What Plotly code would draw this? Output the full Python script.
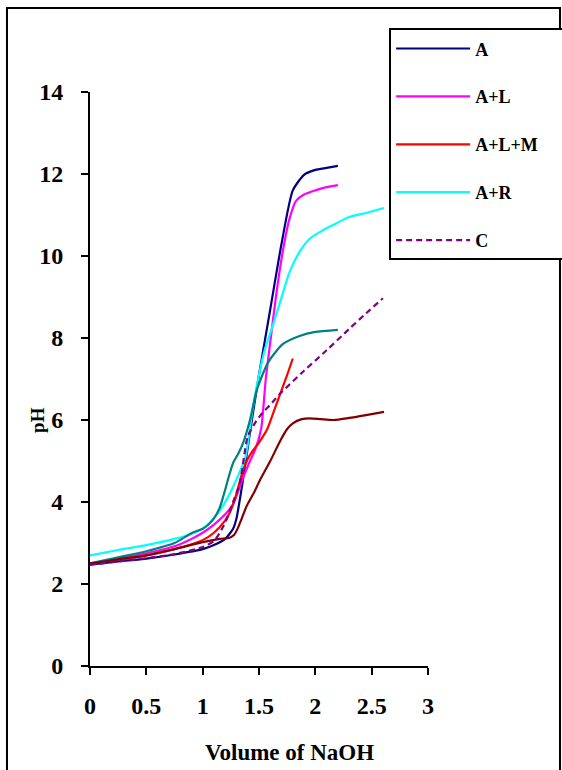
import plotly.graph_objects as go

# ---- data ----
a_x = [0, 0.25, 0.5, 0.75, 1.0, 1.1, 1.2, 1.27, 1.3, 1.35, 1.42, 1.5, 1.6, 1.7, 1.8, 1.9, 2.0, 2.1, 2.2]
a_y = [2.47, 2.55, 2.62, 2.72, 2.85, 2.95, 3.1, 3.35, 3.6, 4.4, 5.7, 7.1, 8.7, 10.3, 11.6, 11.98, 12.1, 12.15, 12.2]

al_x = [0, 0.25, 0.5, 0.75, 0.9, 1.0, 1.1, 1.2, 1.27, 1.36, 1.42, 1.47, 1.52, 1.56, 1.6, 1.65, 1.71, 1.77, 1.83, 1.9, 2.0, 2.1, 2.2]
al_y = [2.5, 2.62, 2.75, 2.92, 3.1, 3.25, 3.45, 3.7, 3.95, 4.6, 5.0, 5.3, 5.8, 7.0, 7.9, 9.0, 10.1, 10.9, 11.35, 11.5, 11.6, 11.68, 11.73]

alm_x = [0, 0.25, 0.5, 0.75, 1.0, 1.1, 1.2, 1.25, 1.3, 1.35, 1.4, 1.45, 1.5, 1.57, 1.63, 1.69, 1.75, 1.8]
alm_y = [2.5, 2.6, 2.7, 2.85, 3.07, 3.25, 3.55, 3.8, 4.2, 4.7, 5.05, 5.27, 5.45, 5.76, 6.2, 6.65, 7.1, 7.5]

ar_x = [0, 0.25, 0.5, 0.75, 0.9, 1.0, 1.1, 1.2, 1.3, 1.38, 1.44, 1.5, 1.55, 1.61, 1.69, 1.77, 1.86, 1.95, 2.05, 2.16, 2.3, 2.45, 2.61]
ar_y = [2.7, 2.83, 2.95, 3.1, 3.22, 3.35, 3.6, 4.0, 4.55, 5.1, 6.2, 7.1, 7.7, 8.2, 8.9, 9.6, 10.1, 10.42, 10.6, 10.76, 10.95, 11.05, 11.17]

c_x = [0, 0.25, 0.5, 0.75, 1.0, 1.1, 1.15, 1.21, 1.27, 1.33, 1.4, 1.47, 1.53, 1.6, 1.69, 1.9, 2.1, 2.3, 2.45, 2.6]
c_y = [2.47, 2.55, 2.63, 2.73, 2.9, 3.05, 3.24, 3.56, 4.0, 4.46, 5.6, 5.95, 6.17, 6.37, 6.65, 7.2, 7.7, 8.22, 8.6, 8.97]

teal_x = [0, 0.25, 0.5, 0.75, 0.9, 1.0, 1.04, 1.1, 1.15, 1.2, 1.23, 1.27, 1.32, 1.36, 1.42, 1.48, 1.58, 1.71, 1.86, 2.0, 2.2]
teal_y = [2.5, 2.65, 2.8, 3.0, 3.24, 3.35, 3.42, 3.6, 3.85, 4.3, 4.6, 4.95, 5.2, 5.45, 6.0, 6.73, 7.4, 7.85, 8.05, 8.15, 8.2]

maroon_x = [0, 0.25, 0.5, 0.75, 1.0, 1.15, 1.24, 1.28, 1.31, 1.35, 1.39, 1.45, 1.51, 1.6, 1.69, 1.75, 1.8, 1.88, 1.95, 2.05, 2.16, 2.3, 2.45, 2.61]
maroon_y = [2.5, 2.6, 2.7, 2.85, 3.02, 3.1, 3.13, 3.2, 3.35, 3.62, 3.9, 4.2, 4.54, 5.0, 5.5, 5.78, 5.92, 6.02, 6.04, 6.02, 6.0, 6.05, 6.12, 6.2]

x_ticks = [0, 0.5, 1, 1.5, 2, 2.5, 3]
x_tick_labels = ["0", "0.5", "1", "1.5", "2", "2.5", "3"]
y_ticks = [0, 2, 4, 6, 8, 10, 12, 14]
y_tick_labels = ["0", "2", "4", "6", "8", "10", "12", "14"]

series = [
    ("A", a_x, a_y, "#000080", "solid", True),
    ("A+L", al_x, al_y, "#FF00FF", "solid", True),
    ("A+L+M", alm_x, alm_y, "#FF0000", "solid", True),
    ("A+R", ar_x, ar_y, "#00FFFF", "solid", True),
    ("teal", teal_x, teal_y, "#008080", "solid", False),
    ("maroon", maroon_x, maroon_y, "#800000", "solid", False),
    ("C", c_x, c_y, "#800080", "6px,4px", True),
]

FONT = "Liberation Serif, Times New Roman, serif"
NBSP = "\u00a0"

fig = go.Figure()
legend_order = {"A": 1, "A+L": 2, "A+L+M": 3, "A+R": 4, "C": 5}
for name, xs, ys, color, dash, show in series:
    label = "<b>" + name + "</b>"
    if name == "A+L+M":
        label += NBSP * 7
    fig.add_trace(go.Scatter(
        x=xs, y=ys, mode="lines", name=label,
        line=dict(color=color, width=2.2, dash=dash, shape="spline", smoothing=0.6),
        showlegend=show, legendgroup=name,
        legendrank=legend_order.get(name, 100),
        hoverinfo="skip",
    ))

fig.update_layout(
    width=562, height=770, autosize=False,
    margin=dict(l=90, r=134, t=92, b=104, autoexpand=False),
    paper_bgcolor="white", plot_bgcolor="white",
    font=dict(family=FONT, color="black"),
    showlegend=True,
    legend=dict(
        x=0.885, y=1.111, xanchor="left", yanchor="top",
        bgcolor="white", bordercolor="black", borderwidth=2,
        font=dict(family=FONT, size=18, color="black"),
        tracegroupgap=21.5, itemwidth=74,
        traceorder="grouped",
    ),
    xaxis=dict(
        range=[0, 3], tickvals=x_ticks, ticktext=["<b>" + t + "</b>" for t in x_tick_labels],
        showgrid=False, zeroline=False, showline=True, linecolor="black", linewidth=2,
        ticks="outside", ticklen=7, tickwidth=2, tickcolor="black",
        tickfont=dict(family=FONT, size=24, color="black", weight="bold"),
        ticklabelstandoff=10, automargin=False,
    ),
    yaxis=dict(
        range=[0, 14], tickvals=y_ticks, ticktext=["<b>" + t + "</b>" for t in y_tick_labels],
        showgrid=False, zeroline=False, showline=True, linecolor="black", linewidth=2,
        ticks="outside", ticklen=7, tickwidth=2, tickcolor="black",
        tickfont=dict(family=FONT, size=24, color="black", weight="bold"),
        ticklabelstandoff=13, automargin=False,
    ),
    annotations=[
        dict(text="<b>Volume of NaOH</b>", xref="paper", yref="paper",
             x=0.5917, y=-0.15, showarrow=False, xanchor="center", yanchor="middle",
             font=dict(family=FONT, size=23, color="black")),
        dict(text="<b>pH</b>", xref="paper", yref="paper",
             x=-0.154, y=0.4286, showarrow=False, textangle=-90,
             xanchor="center", yanchor="middle",
             font=dict(family=FONT, size=19, color="black")),
    ],
    shapes=[
        dict(type="rect", xref="paper", yref="paper",
             x0=-0.2456, x1=1.3905, y0=-0.25, y1=1.1463,
             line=dict(color="black", width=2), fillcolor="rgba(0,0,0,0)", layer="below"),
    ],
)

fig.write_html("out.html", config={"displayModeBar": False},
               post_script="document.body.style.margin='0';")
